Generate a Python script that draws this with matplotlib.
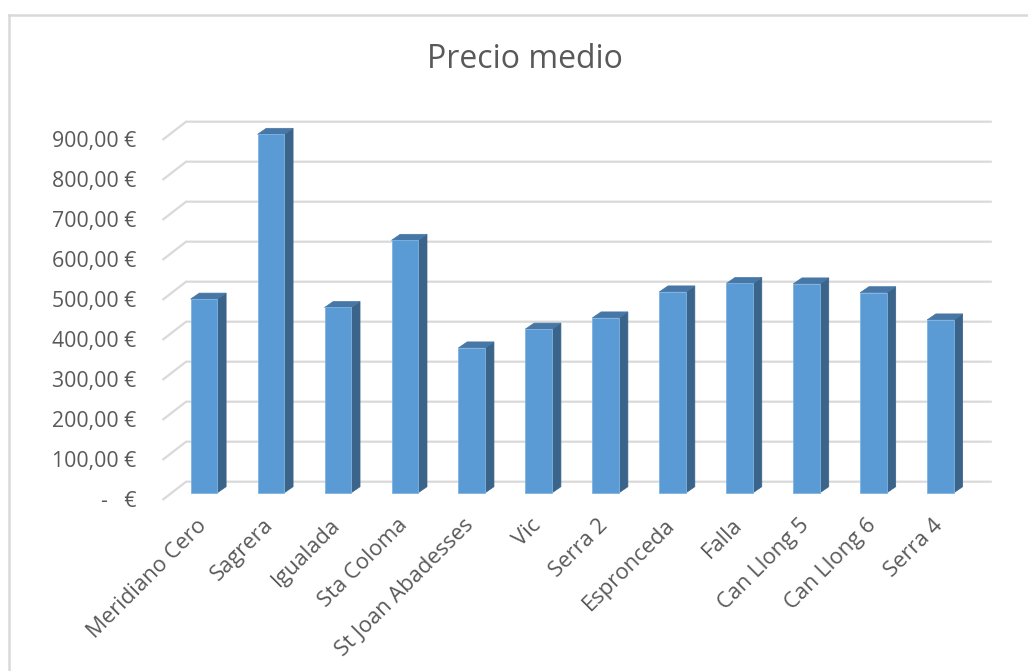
import matplotlib
matplotlib.use("Agg")
import matplotlib.pyplot as plt
from matplotlib.patches import Polygon, Rectangle
from matplotlib.lines import Line2D
from matplotlib.transforms import ScaledTranslation

categories = ["Meridiano Cero", "Sagrera", "Igualada", "Sta Coloma", "St Joan Abadesses",
              "Vic", "Serra 2", "Espronceda", "Falla", "Can Llong 5", "Can Llong 6", "Serra 4"]
values = [484, 896, 463, 631, 362, 409, 437, 502, 523, 522, 500, 432]
y_ticks = [0, 100, 200, 300, 400, 500, 600, 700, 800, 900]
y_tick_labels = ["-   €", "100,00 €", "200,00 €", "300,00 €", "400,00 €", "500,00 €",
                 "600,00 €", "700,00 €", "800,00 €", "900,00 €"]
title = "Precio medio"

FONT = ["Open Sans", "DejaVu Sans"]
plt.rcParams["font.family"] = FONT
TXT = "#595959"
GRID = "#D9D9D9"
FRONT = "#5B9BD5"
SIDE = "#3A6489"
TOP = "#4677A6"

W, H, DPI = 1028, 671, 100
fig = plt.figure(figsize=(W / DPI, H / DPI), dpi=DPI)

# axes in pixels (front plane of bars)
x0 = 170.55; x1 = 974.05
ytop = 132.7; ybot = 492.7
ax = fig.add_axes([x0 / W, (H - ybot) / H, (x1 - x0) / W, (ybot - ytop) / H])
ax.set_xlim(-0.5, len(categories) - 0.5)
ax.set_ylim(0, 900)
for s in ax.spines.values():
    s.set_visible(False)
ax.set_facecolor("none")

px_x = (len(categories)) / (x1 - x0)   # data units per pixel in x
px_y = 900 / (ybot - ytop)             # data units per pixel in y

# walls / gridlines
wall_left_front = -0.5 - 7.25 * px_x
wall_left_back = -0.5 + 15.5 * px_x
wall_right = -0.5 + (990.7 - x0) * px_x
for v in y_ticks:
    yb = v + 11 * px_y
    yf = v - 6.6 * px_y
    ax.plot([wall_left_front, wall_left_back, wall_right], [yf, yb, yb],
            color=GRID, lw=1.6, clip_on=False, zorder=1, solid_joinstyle="miter")

# bars
bw = 0.2
ddx, ddy = 8.7 * px_x, 6 * px_y
for i, v in enumerate(values):
    side = Polygon([(i + bw, 0), (i + bw + ddx, ddy), (i + bw + ddx, v + ddy), (i + bw, v)],
                   closed=True, facecolor=SIDE, edgecolor=SIDE, lw=0.5, zorder=3, clip_on=False)
    top = Polygon([(i - bw, v), (i + bw, v), (i + bw + ddx, v + ddy), (i - bw + ddx, v + ddy)],
                  closed=True, facecolor=TOP, edgecolor=TOP, lw=0.5, zorder=3, clip_on=False)
    front = Rectangle((i - bw, 0), 2 * bw, v, facecolor=FRONT, edgecolor="#7FB3E0",
                      lw=0.6, zorder=4, clip_on=False)
    ax.add_patch(side)
    ax.add_patch(top)
    ax.add_patch(front)

# y ticks
ax.set_yticks(y_ticks)
ax.set_yticklabels(y_tick_labels, fontsize=15.3, color=TXT)
ax.tick_params(axis="y", length=0, pad=24.5)
for lab in ax.get_yticklabels():
    lab.set_transform(lab.get_transform() + ScaledTranslation(0, -4.75 / 72, fig.dpi_scale_trans))

# x ticks
ax.set_xticks(range(len(categories)))
ax.set_xticklabels(categories, fontsize=15.8, color=TXT, rotation=45, ha="right",
                   va="top", rotation_mode="anchor")
ax.tick_params(axis="x", length=0, pad=12)
for lab in ax.get_xticklabels():
    lab.set_transform(lab.get_transform() + ScaledTranslation(-6 / 72, -4 / 72, fig.dpi_scale_trans))

fig.text(525 / W, 1 - 60 / H, title, ha="center", va="center", fontsize=23, color=TXT)

# chart border (top and left)
fig.add_artist(Line2D([8.5 / W, 1], [1 - 14.5 / H, 1 - 14.5 / H], color=GRID, lw=1.8))
fig.add_artist(Line2D([8.5 / W, 8.5 / W], [0, 1 - 14.5 / H], color=GRID, lw=1.8))

fig.savefig("out.png", dpi=DPI, facecolor="white")
